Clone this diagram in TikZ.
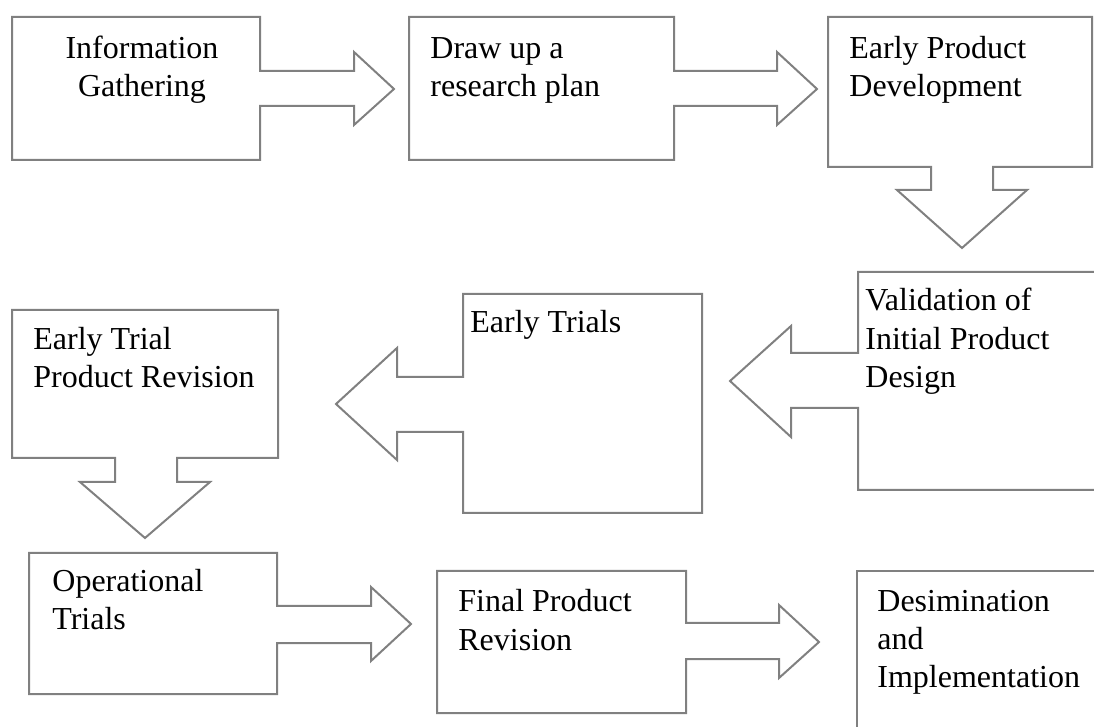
\documentclass[tikz,border=0pt]{standalone}
\usepackage{fontspec}
\setmainfont{Liberation Serif}
\usetikzlibrary{positioning}

\tikzset{
  callout/.style={draw=black!50, line width=1pt, line join=miter},
  steptext/.style={inner sep=0pt, align=left, anchor=base west,
    font=\fontsize{16}{19.25}\selectfont}
}

\begin{document}
\begin{tikzpicture}[x=0.5pt, y=-0.5pt]

\useasboundingbox (0,0) rectangle (1094,727);
\clip (0,0) rectangle (1094,727);

% Information gathering, arrow to the right
\draw[callout] (12,17) -- (260,17) -- (260,71) -- (354,71) -- (354,52) -- (394,89)
  -- (354,125) -- (354,106) -- (260,106) -- (260,160) -- (12,160) -- cycle;
\node[steptext, align=center, anchor=base] (info) at (142,97) {Information\\Gathering};

% Research plan, arrow to the right
\draw[callout] (409,17) -- (674,17) -- (674,71) -- (777,71) -- (777,52) -- (817,89)
  -- (777,125) -- (777,106) -- (674,106) -- (674,160) -- (409,160) -- cycle;
\node[steptext] (plan) at (430,97) {Draw up a\\research plan};

% Early product development, arrow down
\draw[callout] (828,17) -- (1092,17) -- (1092,167) -- (993,167) -- (993,190) -- (1027,190)
  -- (962,248) -- (897,190) -- (931,190) -- (931,167) -- (828,167) -- cycle;
\node[steptext] (dev) at (849,97) {Early Product\\Development};

% Validation, arrow to the left (box runs off the page)
\draw[callout] (1110,272) -- (858,272) -- (858,353) -- (791,353) -- (791,326) -- (730,381)
  -- (791,437) -- (791,408) -- (858,408) -- (858,490) -- (1110,490);
\node[steptext] (valid) at (865,388) {Validation of\\Initial Product\\Design};

% Early trials, arrow to the left
\draw[callout] (463,294) -- (702,294) -- (702,513) -- (463,513) -- (463,432) -- (397,432)
  -- (397,460) -- (336,404) -- (397,348) -- (397,377) -- (463,377) -- cycle;
\node[steptext] (early) at (470,333) {Early Trials};

% Early trial product revision, arrow down
\draw[callout] (12,310) -- (278,310) -- (278,458) -- (177,458) -- (177,482) -- (210,482)
  -- (145,538) -- (80,482) -- (115,482) -- (115,458) -- (12,458) -- cycle;
\node[steptext] (revision) at (33,388) {Early Trial\\Product Revision};

% Operational trials, arrow to the right
\draw[callout] (29,553) -- (277,553) -- (277,606) -- (371,606) -- (371,587) -- (411,624)
  -- (371,661) -- (371,643) -- (277,643) -- (277,694) -- (29,694) -- cycle;
\node[steptext] (operational) at (52,630) {Operational\\Trials};

% Final product revision, arrow to the right
\draw[callout] (437,571) -- (686,571) -- (686,623) -- (779,623) -- (779,605) -- (819,642)
  -- (779,678) -- (779,659) -- (686,659) -- (686,713) -- (437,713) -- cycle;
\node[steptext] (final) at (458,650) {Final Product\\Revision};

% Dissemination, box runs off the page
\draw[callout] (1110,571) -- (857,571) -- (857,740);
\node[steptext] (dissem) at (877,688) {Desimination\\and\\Implementation};

\end{tikzpicture}
\end{document}
